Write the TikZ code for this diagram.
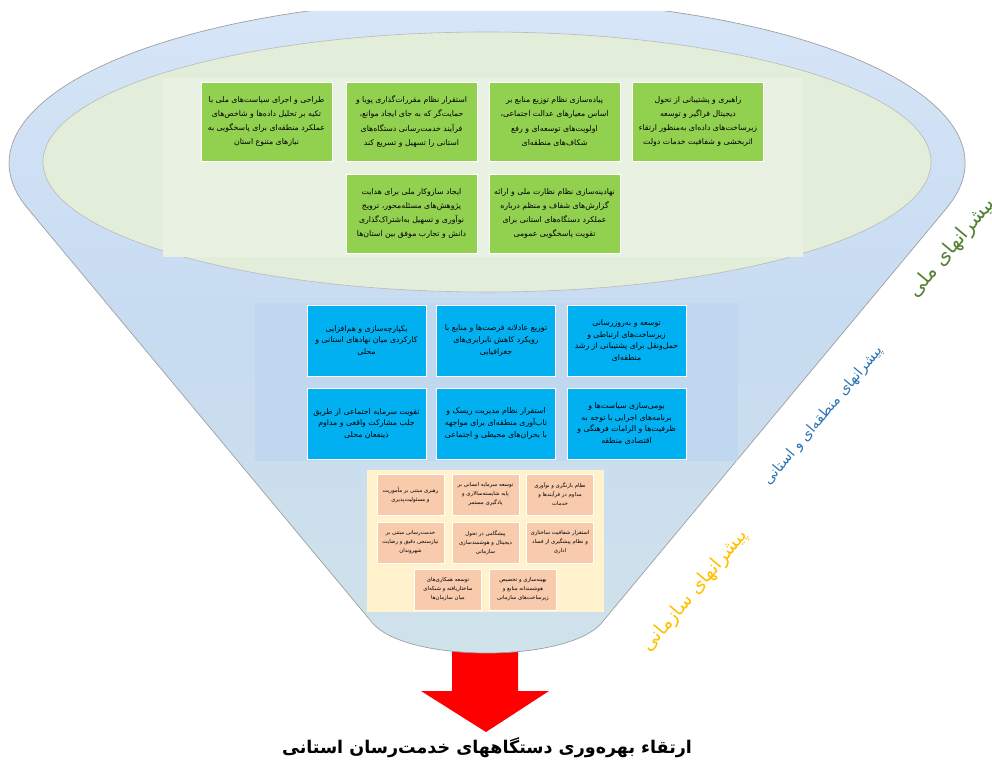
\documentclass[tikz,border=0pt]{standalone}
\usepackage{fontspec}
\setmainfont{DejaVu Sans}
\newfontfamily\fa[Script=Arabic]{DejaVu Sans}
\TeXXeTstate=1
\newcommand\rtxt[1]{\beginR#1\endR}
\definecolor{fTop}{HTML}{D8E6F8}
\definecolor{fMid}{HTML}{C7DBF1}
\definecolor{fBot}{HTML}{D0E2EA}
\definecolor{gEll}{HTML}{E3EEDA}
\definecolor{gBg}{HTML}{E9F2E2}
\definecolor{gBox}{HTML}{92D050}
\definecolor{bBg}{HTML}{C0D8EF}
\definecolor{bBox}{HTML}{00B0F0}
\definecolor{oBg}{HTML}{FFF2CC}
\definecolor{oBox}{HTML}{F8CBAD}
\definecolor{lblG}{HTML}{548235}
\definecolor{lblB}{HTML}{2E75B6}
\definecolor{lblO}{HTML}{FFC000}
\begin{document}
\begin{tikzpicture}[x=1pt,y=1pt,
  gbox/.style={rectangle, fill=gBox, draw=white, line width=0.8pt, minimum width=131pt, minimum height=79pt, align=center, inner sep=1pt, font=\fa\fontsize{7.8}{14.3}\selectfont},
  bbox/.style={rectangle, fill=bBox, draw=white, line width=0.8pt, minimum width=119pt, minimum height=71pt, align=center, inner sep=1pt, font=\fa\fontsize{7.8}{11.8}\selectfont},
  obox/.style={rectangle, fill=oBox, draw=white, line width=0.8pt, minimum width=67pt, minimum height=41pt, align=center, inner sep=1pt, font=\fa\fontsize{5.4}{9}\selectfont},
  side/.style={rotate=50, inner sep=0pt}
]
\useasboundingbox (0,0) rectangle (992,761);
% red arrow
\fill[red] (452,125) -- (452,70) -- (421,70) -- (486,29) -- (549,70) -- (518,70) -- (518,125) -- cycle;
% funnel
\begin{scope}
\clip (0,0) rectangle (992,749);
\path[top color=fTop, bottom color=fBot, middle color=fMid]
  (946.7,553) arc[start angle=-15.9, end angle=195.9, x radius=478pt, y radius=164pt]
  -- (370,141) .. controls (400,97) and (574,97) .. (604,141) -- cycle;
\draw[gray!75, line width=0.7pt]
  (946.7,553) arc[start angle=-15.9, end angle=195.9, x radius=478pt, y radius=164pt]
  -- (370,141) .. controls (400,97) and (574,97) .. (604,141) -- cycle;
\end{scope}
% green ellipse
\draw[fill=gEll, draw=gray!55, line width=0.6pt] (487,599) ellipse[x radius=444pt, y radius=130pt];
\fill[gBg] (163,683) rectangle (803,504);
% green boxes
\node[gbox] (g4) at (698,639.5) {\rtxt{راهبری و پشتیبانی از تحول}\\\rtxt{دیجیتال فراگیر و توسعه}\\\rtxt{زیرساخت‌های داده‌ای به‌منظور ارتقاء}\\\rtxt{اثربخشی و شفافیت خدمات دولت}};
\node[gbox] (g3) at (554.5,639.5) {\rtxt{پیاده‌سازی نظام توزیع منابع بر}\\\rtxt{اساس معیارهای عدالت اجتماعی،}\\\rtxt{اولویت‌های توسعه‌ای و رفع}\\\rtxt{شکاف‌های منطقه‌ای}};
\node[gbox] (g2) at (411.5,639.5) {\rtxt{استقرار نظام مقررات‌گذاری پویا و}\\\rtxt{حمایت‌گر که به جای ایجاد موانع،}\\\rtxt{فرآیند خدمت‌رسانی دستگاه‌های}\\\rtxt{استانی را تسهیل و تسریع کند}};
\node[gbox] (g1) at (266.5,639.5) {\rtxt{طراحی و اجرای سیاست‌های ملی با}\\\rtxt{تکیه بر تحلیل داده‌ها و شاخص‌های}\\\rtxt{عملکرد منطقه‌ای برای پاسخگویی به}\\\rtxt{نیازهای متنوع استان}};
\node[gbox] (g5) at (554.5,547.5) {\rtxt{نهادینه‌سازی نظام نظارت ملی و ارائه}\\\rtxt{گزارش‌های شفاف و منظم درباره}\\\rtxt{عملکرد دستگاه‌های استانی برای}\\\rtxt{تقویت پاسخگویی عمومی}};
\node[gbox] (g6) at (411.5,547.5) {\rtxt{ایجاد سازوکار ملی برای هدایت}\\\rtxt{پژوهش‌های مسئله‌محور، ترویج}\\\rtxt{نوآوری و تسهیل به‌اشتراک‌گذاری}\\\rtxt{دانش و تجارب موفق بین استان‌ها}};
% blue region
\fill[bBg] (255,458) rectangle (738,300);
\node[bbox] (b1) at (626.5,420.5) {\rtxt{توسعه و به‌روزرسانی}\\\rtxt{زیرساخت‌های ارتباطی و}\\\rtxt{حمل‌ونقل برای پشتیبانی از رشد}\\\rtxt{منطقه‌ای}};
\node[bbox] (b2) at (496,420.5) {\rtxt{توزیع عادلانه فرصت‌ها و منابع با}\\\rtxt{رویکرد کاهش نابرابری‌های}\\\rtxt{جغرافیایی}};
\node[bbox] (b3) at (366.5,420.5) {\rtxt{یکپارچه‌سازی و هم‌افزایی}\\\rtxt{کارکردی میان نهادهای استانی و}\\\rtxt{محلی}};
\node[bbox] (b4) at (626.5,337.5) {\rtxt{بومی‌سازی سیاست‌ها و}\\\rtxt{برنامه‌های اجرایی با توجه به}\\\rtxt{ظرفیت‌ها و الزامات فرهنگی و}\\\rtxt{اقتصادی منطقه}};
\node[bbox] (b5) at (496,337.5) {\rtxt{استقرار نظام مدیریت ریسک و}\\\rtxt{تاب‌آوری منطقه‌ای برای مواجهه}\\\rtxt{با بحران‌های محیطی و اجتماعی}};
\node[bbox] (b6) at (366.5,337.5) {\rtxt{تقویت سرمایه اجتماعی از طریق}\\\rtxt{جلب مشارکت واقعی و مداوم}\\\rtxt{ذینفعان محلی}};
% orange region
\fill[oBg] (367,291) rectangle (604,149);
\node[obox] (o1) at (560,266.5) {\rtxt{نظام بازنگری و نوآوری}\\\rtxt{مداوم در فرآیندها و}\\\rtxt{خدمات}};
\node[obox] (o2) at (485.5,266.5) {\rtxt{توسعه سرمایه انسانی بر}\\\rtxt{پایه شایسته‌سالاری و}\\\rtxt{یادگیری مستمر}};
\node[obox] (o3) at (410.5,266.5) {\rtxt{رهبری مبتنی بر مأموریت}\\\rtxt{و مسئولیت‌پذیری}};
\node[obox] (o4) at (560,218.5) {\rtxt{استقرار شفافیت ساختاری}\\\rtxt{و نظام پیشگیری از فساد}\\\rtxt{اداری}};
\node[obox] (o5) at (485.5,218.5) {\rtxt{پیشگامی در تحول}\\\rtxt{دیجیتال و هوشمندسازی}\\\rtxt{سازمانی}};
\node[obox] (o6) at (410.5,218.5) {\rtxt{خدمت‌رسانی مبتنی بر}\\\rtxt{نیازسنجی دقیق و رضایت}\\\rtxt{شهروندان}};
\node[obox] (o7) at (523,171.5) {\rtxt{بهینه‌سازی و تخصیص}\\\rtxt{هوشمندانه منابع و}\\\rtxt{زیرساخت‌های سازمانی}};
\node[obox] (o8) at (448,171.5) {\rtxt{توسعه همکاری‌های}\\\rtxt{ساختاریافته و شبکه‌ای}\\\rtxt{میان سازمان‌ها}};
% side labels
\node[side, text=lblG, font=\fa\fontsize{20}{24}\selectfont] (lN) at (952,513) {\rtxt{پیشرانهای ملی}};
\node[side, text=lblB, font=\fa\fontsize{14.5}{17}\selectfont] (lR) at (823,345) {\rtxt{پیشرانهای منطقه‌ای و استانی}};
\node[side, text=lblO, font=\fa\fontsize{19}{22}\selectfont] (lO) at (695,170) {\rtxt{پیشرانهای سازمانی}};
% title
\node[font=\fa\bfseries\fontsize{17.5}{20}\selectfont] (title) at (487,13) {\rtxt{ارتقاء بهره‌وری دستگاههای خدمت‌رسان استانی}};
\end{tikzpicture}
\end{document}
